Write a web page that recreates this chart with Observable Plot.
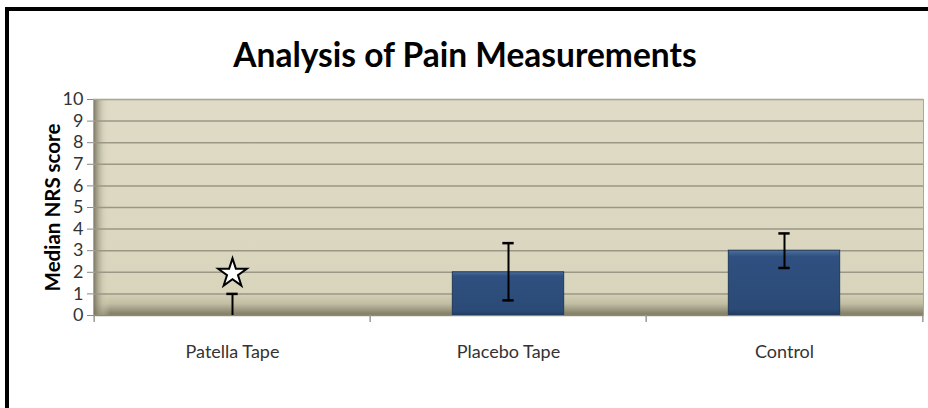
<!DOCTYPE html>
<html>
<head>
<meta charset="utf-8">
<script src="https://cdn.jsdelivr.net/npm/d3@7"></script>
<script src="https://cdn.jsdelivr.net/npm/@observablehq/plot@0.6"></script>
<style>
  html, body { margin: 0; padding: 0; background: #fff; overflow: hidden; }
  #page { position: relative; width: 928px; height: 408px; overflow: hidden; background: #fff; }
  #border { position: absolute; left: 5px; top: 7px; width: 960px; height: 440px;
            border-top: 4px solid #000; border-left: 4px solid #000; box-sizing: border-box; }
  #title { position: absolute; left: 0; width: 930px; top: 34px; text-align: center;
           font-family: Lato, "Open Sans", sans-serif; font-weight: bold; font-size: 33.5px; color: #000; }
  #chart { position: absolute; left: 0; top: 80px; }
</style>
</head>
<body>
<div id="page">
  <div id="border"></div>
  <div id="title">Analysis of Pain Measurements</div>
  <div id="chart"></div>
</div>
<script>
// ---- data ----
const categories = ["Patella Tape", "Placebo Tape", "Control"];
const medians    = [0, 2, 3];
const errLow     = [0, 0.7, 2.2];
const errHigh    = [1, 3.35, 3.8];
const starCategory = ["Patella Tape"];
const starValue    = [1.95];
const yTicks = [0, 1, 2, 3, 4, 5, 6, 7, 8, 9, 10];
const yLabel = "Median NRS score";

const rows = categories.map((c, i) => ({c, m: medians[i], lo: errLow[i], hi: errHigh[i]}));
const stars = starCategory.map((c, i) => ({c, v: starValue[i]}));

const W = 928, H = 328, ML = 93, MR = 5, MT = 19, MB = 93;
const step = (W - ML - MR) / categories.length;
const barW = 112, capW = 12;
const lastCat = categories.slice(-1);

const plot = Plot.plot({
  width: W, height: H,
  marginLeft: ML, marginRight: MR, marginTop: MT, marginBottom: MB,
  style: {background: "transparent", overflow: "visible"},
  x: {type: "band", domain: categories, padding: 0, label: null},
  y: {domain: [0, 10], label: null},
  marks: [
    Plot.frame({fill: "url(#bgV)"}),
    Plot.frame({fill: "url(#bgH)"}),
    Plot.gridY(yTicks, {stroke: "#9a9784", strokeOpacity: 1, strokeWidth: 1.5}),
    Plot.frame({stroke: "#aaa796", strokeWidth: 1, fill: "none"}),
    Plot.rectY(rows, {x: "c", y: "m", fill: "url(#barG)", stroke: "#21395b", strokeWidth: 1,
      insetLeft: (step - barW) / 2, insetRight: (step - barW) / 2}),
    Plot.ruleX(rows, {x: "c", y1: "lo", y2: "hi", stroke: "#000", strokeWidth: 2}),
    Plot.tickY(rows, {x: "c", y: "hi", stroke: "#000", strokeWidth: 2.5,
      insetLeft: (step - capW) / 2, insetRight: (step - capW) / 2}),
    Plot.tickY(rows.filter(d => d.lo > 0), {x: "c", y: "lo", stroke: "#000", strokeWidth: 2.5,
      insetLeft: (step - capW) / 2, insetRight: (step - capW) / 2}),
    Plot.dot(stars, {x: "c", y: "v", symbol: "star", r: 9, fill: "#fff", stroke: "#000", strokeWidth: 2}),
    Plot.ruleY([0], {stroke: "#8a8878", strokeWidth: 1}),
    Plot.axisY({ticks: yTicks, tickSize: 6, tickPadding: 4, stroke: "#888", fontSize: 18,
      fontFamily: "Lato, sans-serif", fill: "#333", label: null}),
    Plot.text([yLabel], {frameAnchor: "left", textAnchor: "middle", dx: -40, rotate: -90, fontSize: 20.5,
      fontWeight: "bold", fontFamily: "Lato, sans-serif", fill: "#000"}),
    Plot.axisX({tickSize: 0, tickPadding: 30, fontSize: 18, fontFamily: "Lato, sans-serif", fill: "#333", label: null}),
    // category separator ticks below the x axis
    Plot.ruleX(categories, {x: d => d, dx: -step / 2, y1: 0, y2: 0, insetBottom: -7, stroke: "#999", strokeWidth: 1.5}),
    Plot.ruleX(lastCat, {x: d => d, dx: step / 2, y1: 0, y2: 0, insetBottom: -7, stroke: "#999", strokeWidth: 1.5}),
  ]
});

// gradients referenced by the frames and bars
d3.select(plot).insert("defs", ":first-child").html(`
  <linearGradient id="bgV" x1="0" y1="0" x2="0" y2="1">
    <stop offset="0" stop-color="#dfdbc6"/>
    <stop offset="0.89" stop-color="#d9d5bd"/>
    <stop offset="0.945" stop-color="#c2bea4"/>
    <stop offset="1" stop-color="#7b775f"/>
  </linearGradient>
  <linearGradient id="bgH" x1="0" y1="0" x2="1" y2="0">
    <stop offset="0" stop-color="#6f6c58" stop-opacity="0.9"/>
    <stop offset="0.012" stop-color="#c8c4aa" stop-opacity="0.4"/>
    <stop offset="0.02" stop-color="#dfdbc6" stop-opacity="0"/>
    <stop offset="1" stop-color="#dfdbc6" stop-opacity="0"/>
  </linearGradient>
  <linearGradient id="barG" x1="0" y1="0" x2="0" y2="1">
    <stop offset="0" stop-color="#4c6f9c"/>
    <stop offset="0.1" stop-color="#2f5080"/>
    <stop offset="0.9" stop-color="#2b4a76"/>
    <stop offset="1" stop-color="#223d62"/>
  </linearGradient>
`);

document.getElementById("chart").appendChild(plot);
</script>
</body>
</html>
